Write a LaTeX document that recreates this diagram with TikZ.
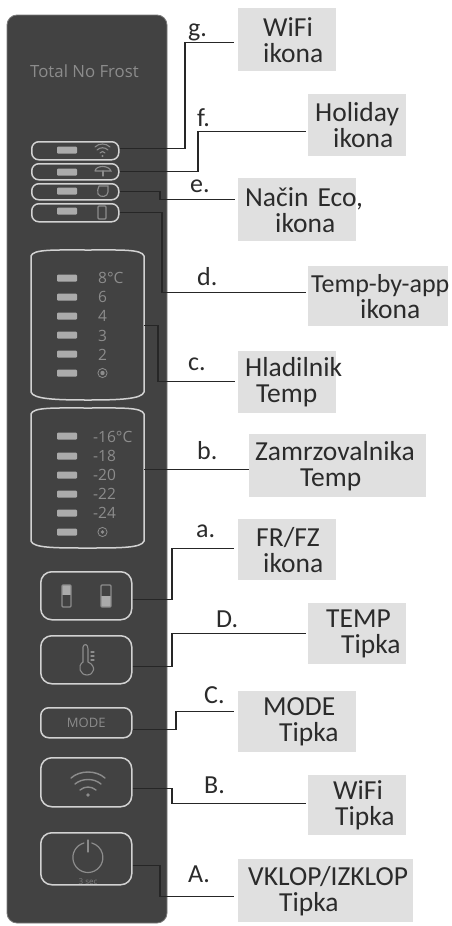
\documentclass[tikz,border=0pt]{standalone}
\usepackage{fontspec}
\setmainfont{Carlito}
\newfontfamily\panelfont{Open Sans}
\usetikzlibrary{calc}
\definecolor{panelc}{HTML}{424242}
\definecolor{framec}{HTML}{D2D2D2}
\definecolor{ledc}{HTML}{ABABAB}
\definecolor{ptext}{HTML}{8C8C8C}
\definecolor{boxc}{HTML}{E0E0E0}
\definecolor{inkc}{HTML}{2B2B2B}
\definecolor{linec}{HTML}{262626}
\tikzset{
  labbox/.style={fill=boxc,anchor=north west,inner xsep=0pt,inner ysep=0pt,align=left,text=inkc,font=\fontsize{27.5}{26}\selectfont},
  letter/.style={anchor=base west,inner sep=0pt,text=inkc,font=\fontsize{26}{26}\selectfont},
  conn/.style={draw=linec,line width=1.3pt},
  frame/.style={draw=framec,line width=1.5pt,rounded corners=#1,inner sep=0pt},
  frame/.default=8pt,
  led/.style={fill=ledc,draw=none,minimum width=20pt,minimum height=7pt,inner sep=0pt,rounded corners=1pt},
  ptxt/.style={anchor=base west,inner sep=0pt,text=ptext,font=\panelfont\fontsize{15.5}{16}\selectfont},
  icon/.style={draw=ptext,line width=1.1pt,line cap=round}
}
\newcommand{\labbox}[9]{%
  \pgfmathsetlengthmacro{\bw}{#4-#2}\pgfmathsetlengthmacro{\bh}{#5-#3}
  \node[labbox,text width=\bw,minimum height=\bh] (#1) at (#2,#3) {\hspace*{#6pt}\mbox{#7}\\\hspace*{#8pt}\mbox{#9}};}
\newcommand{\conn}[6]{%
  \coordinate (cs) at ([yshift=#2 pt]#1.east);
  \coordinate (ct) at ([yshift=#5 pt,xshift=-#6 pt]#4.west);
  \coordinate (cx) at (#3,0);
  \draw[conn,line join=miter] (cs) -- (cs -| cx) -- (ct -| cx) -- (ct);}
\begin{document}
\begin{tikzpicture}[x=1pt,y=-1pt]
\useasboundingbox (0,0) rectangle (451,926);
\fill[white] (0,0) rectangle (451,926);
% panel
\draw[fill=panelc,draw=panelc!70!white,line width=.8pt,rounded corners=10pt] (7,15) rectangle (167,923);
\node[anchor=base west,inner sep=0pt,text=ptext,font=\panelfont\fontsize{16.8}{17}\selectfont] (title) at (30,77) {Total No Frost};
% icon rows
\foreach \n/\a/\b in {bg/141/159,bf/163/179,be/183/199,bd/203/221}{
  \pgfmathsetlengthmacro{\hh}{\b-\a}
  \node[frame=7pt,minimum width=87pt,minimum height=\hh,anchor=north west] (\n) at (31,\a) {};
}
\foreach \y in {150,172,191,211}{\node[led] at (67,\y) {};}
% small wifi
\draw[icon] (95,147) .. controls (99,143) and (106,143) .. (110,147);
\draw[icon] (97,150) .. controls (100,147) and (105,147) .. (108,150);
\draw[icon] (100,153) .. controls (101,151) and (104,151) .. (105,153);
\fill[ptext] (102.5,156) circle (1.2pt);
% umbrella
\draw[icon] (95,171) .. controls (96,165) and (109,165) .. (111,171) -- (95,171);
\draw[icon] (103,171) -- (103,176);
% leaf
\draw[icon] (99,186) -- (108,186) -- (108,192) .. controls (108,197) and (100,198) .. (98,194) .. controls (97,191) and (98,189) .. (99,186);
% phone
\draw[icon,rounded corners=1pt] (98,206) rectangle (106,219);
% fridge/freezer frames
\node[minimum width=113pt,minimum height=150pt,anchor=north west,inner sep=0pt] (fr) at (31,250) {};
\node[minimum width=113pt,minimum height=140pt,anchor=north west,inner sep=0pt] (fz) at (31,408) {};
\draw[draw=framec,line width=1.5pt] (31,256)
  .. controls (33,249) and (55,250) .. (88,250) .. controls (120,250) and (142,249) .. (144,256)
  -- (144,392) .. controls (142,399) and (120,400) .. (88,400) .. controls (55,400) and (33,399) .. (31,392) -- cycle;
\draw[draw=framec,line width=1.5pt] (31,414)
  .. controls (33,407) and (55,408) .. (88,408) .. controls (120,408) and (142,407) .. (144,414)
  -- (144,541) .. controls (142,548) and (120,548) .. (88,548) .. controls (55,548) and (33,548) .. (31,541) -- cycle;
\foreach \y in {278,297,316,335,354,373,436,456,475,494,513,532}{\node[led] at (67,\y) {};}
\foreach \y/\t in {283/8°C,302/6,321/4,341/3,360/2}{\node[ptxt] at (98,\y) {\t};}
\foreach \y/\t in {442/-16°C,461/-18,480/-20,499/-22,518/-24}{\node[ptxt] at (93,\y) {\t};}
\draw[icon,line width=.8pt] (102.5,373) circle (4.6pt); \fill[ptext] (102.5,373) circle (2.2pt);
\draw[icon,line width=.8pt] (102.5,532) circle (4.6pt); \fill[ptext] (102.5,532) circle (1.8pt);
% buttons
\node[frame=11pt,minimum width=91pt,minimum height=48pt,anchor=north west] (ba) at (40,571) {};
\node[frame=11pt,minimum width=91pt,minimum height=48pt,anchor=north west] (bD) at (40,635) {};
\node[frame=8pt,minimum width=91pt,minimum height=30pt,anchor=north west,text=ptext,font=\panelfont\fontsize{13}{13}\selectfont] (bC) at (40,707) {MODE};
\node[frame=11pt,minimum width=91pt,minimum height=49pt,anchor=north west] (bB) at (40,757) {};
\node[frame=11pt,minimum width=91pt,minimum height=52pt,anchor=north west] (bA) at (40,832) {};
% FR/FZ icon
\fill[ledc] (62,585) rectangle (71,595);
\draw[icon,rounded corners=1pt] (62,585) rectangle (71,607);
\fill[ledc] (101,596) rectangle (111,607);
\draw[icon,rounded corners=1pt] (101,585) rectangle (111,607);
% thermometer
\draw[icon] (83,647) .. controls (84,643) and (88,644) .. (88,649) -- (88,662) .. controls (97,666) and (94,675) .. (87,675) .. controls (80,675) and (77,666) .. (83,662) -- cycle;
\draw[icon] (91,652) -- (94,652) (91,656) -- (94,656) (91,660) -- (94,660);
% big wifi
\draw[icon,line width=1.4pt] (71,778) .. controls (80,770) and (96,770) .. (105,778);
\draw[icon,line width=1.4pt] (75,784) .. controls (82,778) and (94,778) .. (101,784);
\draw[icon,line width=1.4pt] (80,790) .. controls (85,786) and (91,786) .. (96,790);
\fill[ptext] (88,795) circle (1.8pt);
% power
\draw[icon,line width=1.2pt] (84,843) arc[start angle=105,end angle=435,radius=15pt];
\draw[icon,line width=1.2pt] (88,840) -- (88,852);
\node[anchor=base,inner sep=0pt,text=ptext!80!panelc,font=\panelfont\fontsize{8}{8}\selectfont] (sec) at (88,884) {3 sec};
% label boxes
\labbox{lg}{238}{8}{336}{71}{25}{WiFi}{25}{ikona}
\labbox{lf}{308}{94}{406}{156}{7}{Holiday}{25}{ikona}
\labbox{le}{238}{178}{356}{241}{7}{Način Eco,}{37}{ikona}
\labbox{ld}{308}{266}{448}{326}{3}{\fontsize{26}{26}\selectfont Temp-by-app}{52}{ikona}
\labbox{lc}{238}{351}{336}{413}{7}{Hladilnik}{18}{Temp}
\labbox{lb}{249}{434}{426}{497}{6}{Zamrzovalnika}{51}{Temp}
\labbox{la}{238}{519}{336}{580}{18}{FR/FZ}{25}{ikona}
\labbox{lD}{308}{603}{406}{664}{18}{TEMP}{33}{Tipka}
\labbox{lC}{238}{691}{356}{752}{25}{MODE}{41}{Tipka}
\labbox{lB}{308}{775}{406}{835}{25}{WiFi}{27}{Tipka}
\labbox{lA}{238}{859}{413}{922}{10}{VKLOP/IZKLOP}{41}{Tipka}
% letters
\node[letter] (tg) at (188,36) {g.};
\node[letter] (tf) at (197,126) {f.};
\node[letter] (te) at (190,192) {e.};
\node[letter] (td) at (197,285) {d.};
\node[letter] (tc) at (188,370) {c.};
\node[letter] (tb) at (197,459) {b.};
\node[letter] (ta) at (196,537) {a.};
\node[letter] (tD) at (216,627) {D.};
\node[letter] (tC) at (204,703) {C.};
\node[letter] (tB) at (204,793) {B.};
\node[letter] (tA) at (188,882) {A.};
% connectors
\conn{bg}{2}{185}{lg}{-2.5}{4}
\conn{bf}{0}{198}{lf}{-6}{2}
\conn{be}{0}{160}{le}{10.5}{3}
\conn{bd}{0}{162}{ld}{4}{2}
\conn{fr}{0}{158}{lc}{1}{3}
\conn{fz}{9}{200}{lb}{-3.5}{0}
\conn{ba}{-4}{172}{la}{1.5}{4}
\conn{bD}{-7}{172}{lD}{0.5}{2}
\conn{bC}{-7}{176}{lC}{10.5}{4}
\conn{bB}{-6.5}{172}{lB}{2}{2}
\conn{bA}{-7}{160}{lA}{-5.5}{4}
\end{tikzpicture}
\end{document}
